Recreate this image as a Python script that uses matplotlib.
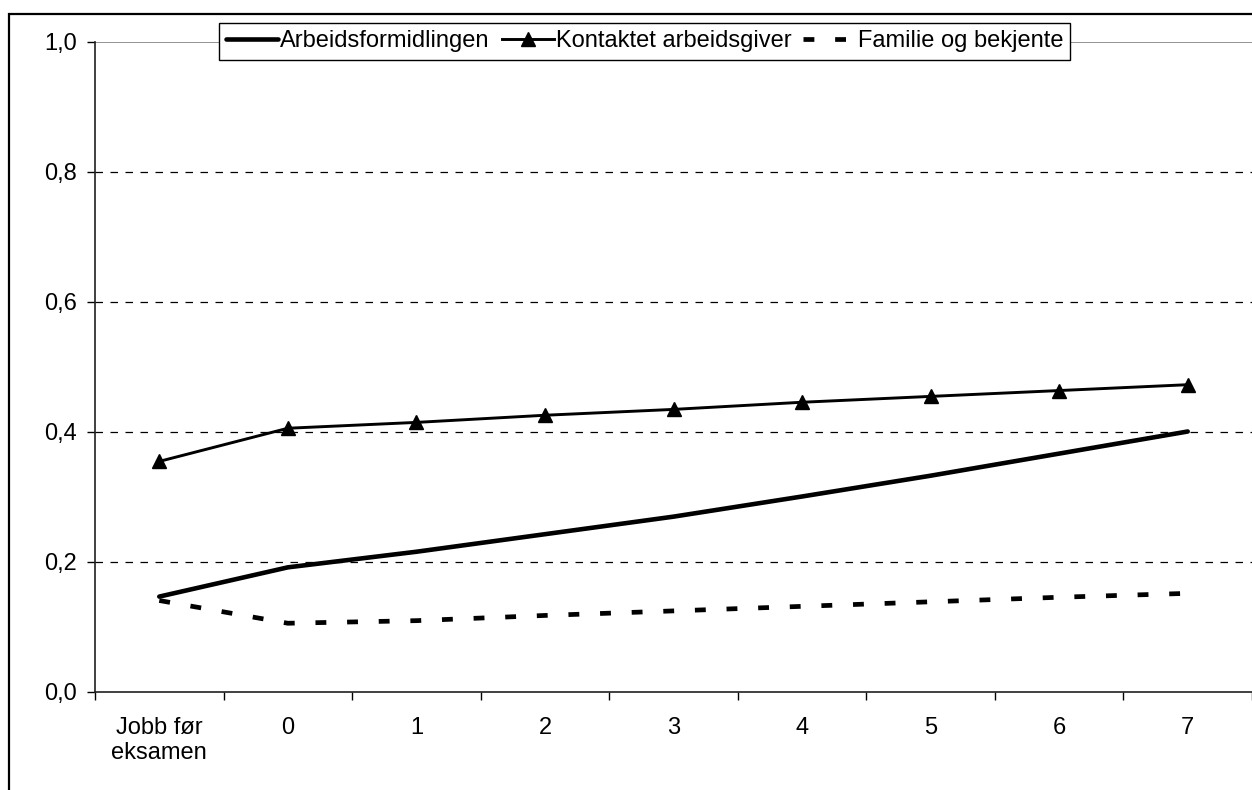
import matplotlib.pyplot as plt
import matplotlib.patches as mpatches
import numpy as np

plt.rcParams['font.family'] = ['Liberation Sans', 'DejaVu Sans']

# categories along the x axis
kategorier = ["Jobb før\neksamen", "0", "1", "2", "3", "4", "5", "6", "7"]

# series values
arbeidsformidlingen = [0.146, 0.191, 0.215, 0.242, 0.269, 0.300, 0.332, 0.366, 0.400]
kontaktet_arbeidsgiver = [0.354, 0.405, 0.414, 0.425, 0.434, 0.445, 0.454, 0.463, 0.472]
familie_bekjente = [0.140, 0.105, 0.109, 0.117, 0.124, 0.131, 0.138, 0.145, 0.151]

yticks = [0.0, 0.2, 0.4, 0.6, 0.8, 1.0]

fs = 17

fig = plt.figure(figsize=(12.52, 7.90), dpi=100)
ax = fig.add_axes([95 / 1252, 1 - 691.5 / 790, 1 - 95 / 1252, (691.5 - 41.5) / 790])

x = np.arange(len(kategorier))

# grid lines
for y in yticks[1:-1]:
    ax.axhline(y, color='black', lw=0.9, ls=(0, (6, 6)), zorder=1)
ax.axhline(1.0, color='#808080', lw=1.2, zorder=1)

ax.plot(x, arbeidsformidlingen, color='black', lw=3.3, solid_capstyle='round',
        label='Arbeidsformidlingen', zorder=3)
ax.plot(x, kontaktet_arbeidsgiver, color='black', lw=2.1, marker='^', markersize=10,
        label='Kontaktet arbeidsgiver', zorder=3)
ax.plot(x, familie_bekjente, color='black', lw=3.4, ls=(0, (2.3, 4.4)),
        label='Familie og bekjente', zorder=3)

ax.set_xlim(-0.5, len(kategorier) - 0.5)
ax.set_ylim(0, 1.0)

ax.set_yticks(yticks)
ax.set_yticklabels([f"{v:.1f}".replace('.', ',') for v in yticks], fontsize=fs)
ax.tick_params(axis='y', direction='out', length=6, width=1, pad=7)

# ticks between categories, labels centred on categories
ax.set_xticks(np.arange(len(kategorier) + 1) - 0.5)
ax.set_xticklabels([])
ax.set_xticks(x, minor=True)
ax.set_xticklabels(kategorier, minor=True, fontsize=fs)
ax.tick_params(axis='x', which='major', direction='out', length=6, width=1)
ax.tick_params(axis='x', which='minor', length=0, pad=18)

for side in ['top', 'right']:
    ax.spines[side].set_visible(False)
for side in ['left', 'bottom']:
    ax.spines[side].set_color('#202020')
    ax.spines[side].set_linewidth(1.2)

leg = ax.legend(loc='center', bbox_to_anchor=(0.475, 1.0), ncol=3, fontsize=fs,
                frameon=True, fancybox=False, edgecolor='black', framealpha=1,
                handlelength=2.2, handletextpad=0.1, columnspacing=0.5,
                borderpad=0.3, borderaxespad=0)
leg.get_frame().set_linewidth(1.0)
leg.set_zorder(5)

# outer chart border
fig.patches.append(mpatches.Rectangle((9 / 1252, -0.1), 1.2, 1 - 14 / 790 + 0.1,
                                      transform=fig.transFigure, fill=False,
                                      edgecolor='black', lw=1.6))

fig.savefig('out.png', dpi=100)
